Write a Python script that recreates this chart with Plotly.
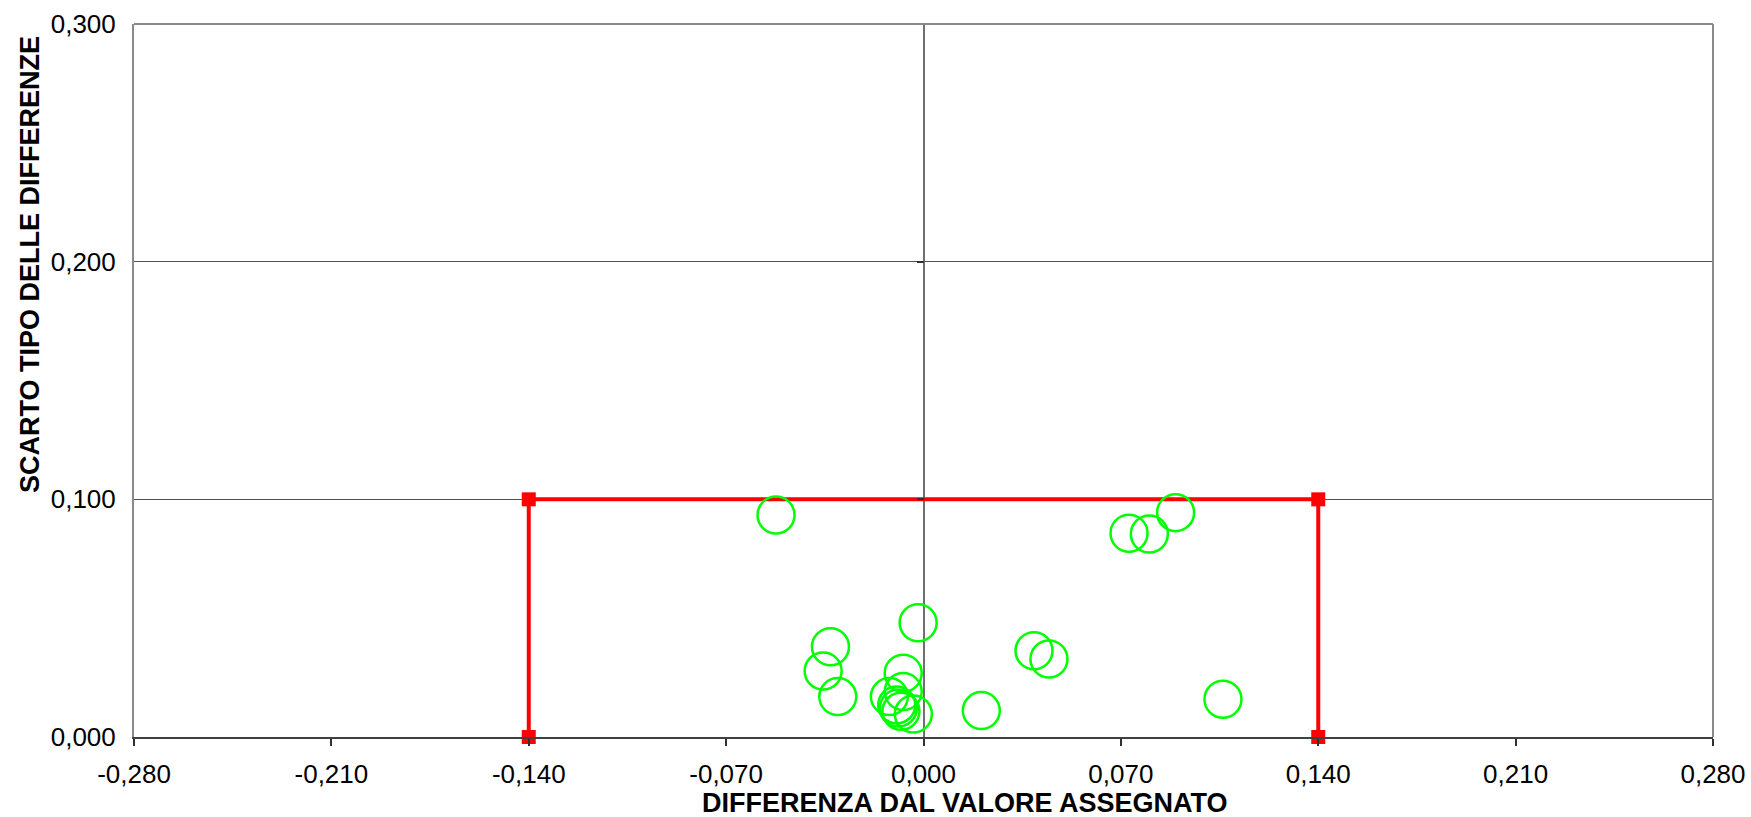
import plotly.graph_objects as go

# Data
x_diff = [-0.0523, 0.0729, 0.0801, 0.0894, -0.0019, -0.0330, -0.0356, -0.0304,
          -0.0072, -0.0072, -0.0121, -0.0089, -0.0080, -0.0095, -0.0036,
          0.0205, 0.0392, 0.0445, 0.1062]
y_sd = [0.0934, 0.0857, 0.0854, 0.0944, 0.0481, 0.0380, 0.0278, 0.0170,
        0.0268, 0.0191, 0.0170, 0.0122, 0.0108, 0.0135, 0.0097,
        0.0111, 0.0363, 0.0328, 0.0159]

limit_x = [-0.14, -0.14, 0.14, 0.14]
limit_y = [0.0, 0.1, 0.1, 0.0]

x_tickvals = [-0.28, -0.21, -0.14, -0.07, 0.0, 0.07, 0.14, 0.21, 0.28]
x_ticktext = ["-0,280", "-0,210", "-0,140", "-0,070", "0,000", "0,070", "0,140", "0,210", "0,280"]
y_tickvals = [0.0, 0.1, 0.2, 0.3]
y_ticktext = ["0,000", "0,100", "0,200", "0,300"]

x_title = "DIFFERENZA DAL VALORE ASSEGNATO"
y_title = "SCARTO TIPO DELLE DIFFERENZE"

FONT = "Liberation Sans, Arial, sans-serif"

fig = go.Figure()

fig.add_trace(go.Scatter(
    x=limit_x, y=limit_y, mode="lines+markers",
    line=dict(color="#ff0000", width=4),
    marker=dict(symbol="square", size=14, color="#ff0000"),
    showlegend=False, cliponaxis=False,
))

fig.add_trace(go.Scatter(
    x=x_diff, y=y_sd, mode="markers",
    marker=dict(symbol="circle-open", size=37, color="#00ff00",
                line=dict(color="#00ff00", width=2.5)),
    showlegend=False,
))

# ticks on the vertical line at x = 0 (Excel-style crossing axis)
fig.add_trace(go.Scatter(x=[None], y=[None], yaxis="y2", showlegend=False))

fig.update_layout(
    width=1751, height=817,
    margin=dict(l=134, r=38, t=24, b=80),
    paper_bgcolor="white", plot_bgcolor="white",
    font=dict(family=FONT, size=26, color="black"),
    xaxis=dict(
        range=[-0.28, 0.28], tickvals=x_tickvals, ticktext=x_ticktext,
        showgrid=False, zeroline=True, zerolinecolor="#707070", zerolinewidth=1.5,
        showline=True, linecolor="#404040", linewidth=2, mirror=False,
        ticks="outside", ticklen=7, tickwidth=1.5, tickcolor="#303030",
        ticklabelstandoff=6, automargin=False,
        tickfont=dict(family=FONT, size=26, color="black"),
    ),
    yaxis=dict(
        range=[0, 0.3], tickvals=y_tickvals, ticktext=y_ticktext,
        showgrid=True, gridcolor="#505050", gridwidth=1,
        zeroline=False,
        showline=True, linecolor="#8a8a8a", linewidth=2,
        ticks="", ticklabelstandoff=11, automargin=False,
        tickfont=dict(family=FONT, size=26, color="black"),
    ),
    yaxis2=dict(
        overlaying="y", anchor="free", position=0.5, matches="y",
        range=[0, 0.3], tickvals=[0.1, 0.2, 0.3],
        showgrid=False, zeroline=False, showline=False,
        ticks="outside", ticklen=7, tickwidth=1.5, tickcolor="#303030",
        showticklabels=False, automargin=False,
    ),
    shapes=[
        dict(type="line", xref="paper", yref="paper", x0=0, x1=1, y0=1, y1=1,
             line=dict(color="#8a8a8a", width=2)),
        dict(type="line", xref="paper", yref="paper", x0=1, x1=1, y0=0, y1=1,
             line=dict(color="#8a8a8a", width=2)),
    ],
    annotations=[
        dict(text=f"<b>{x_title}</b>", xref="paper", yref="paper",
             x=(965 - 134) / 1579, y=-(803 - 737) / 713, xanchor="center", yanchor="middle",
             showarrow=False, font=dict(family=FONT, size=27, color="black")),
        dict(text=f"<b>{y_title}</b>", xref="paper", yref="paper",
             x=-(134 - 30) / 1579, y=(737 - 265) / 713, xanchor="center", yanchor="middle",
             textangle=-90, showarrow=False, font=dict(family=FONT, size=27, color="black")),
    ],
)

fig.write_html("out.html")
